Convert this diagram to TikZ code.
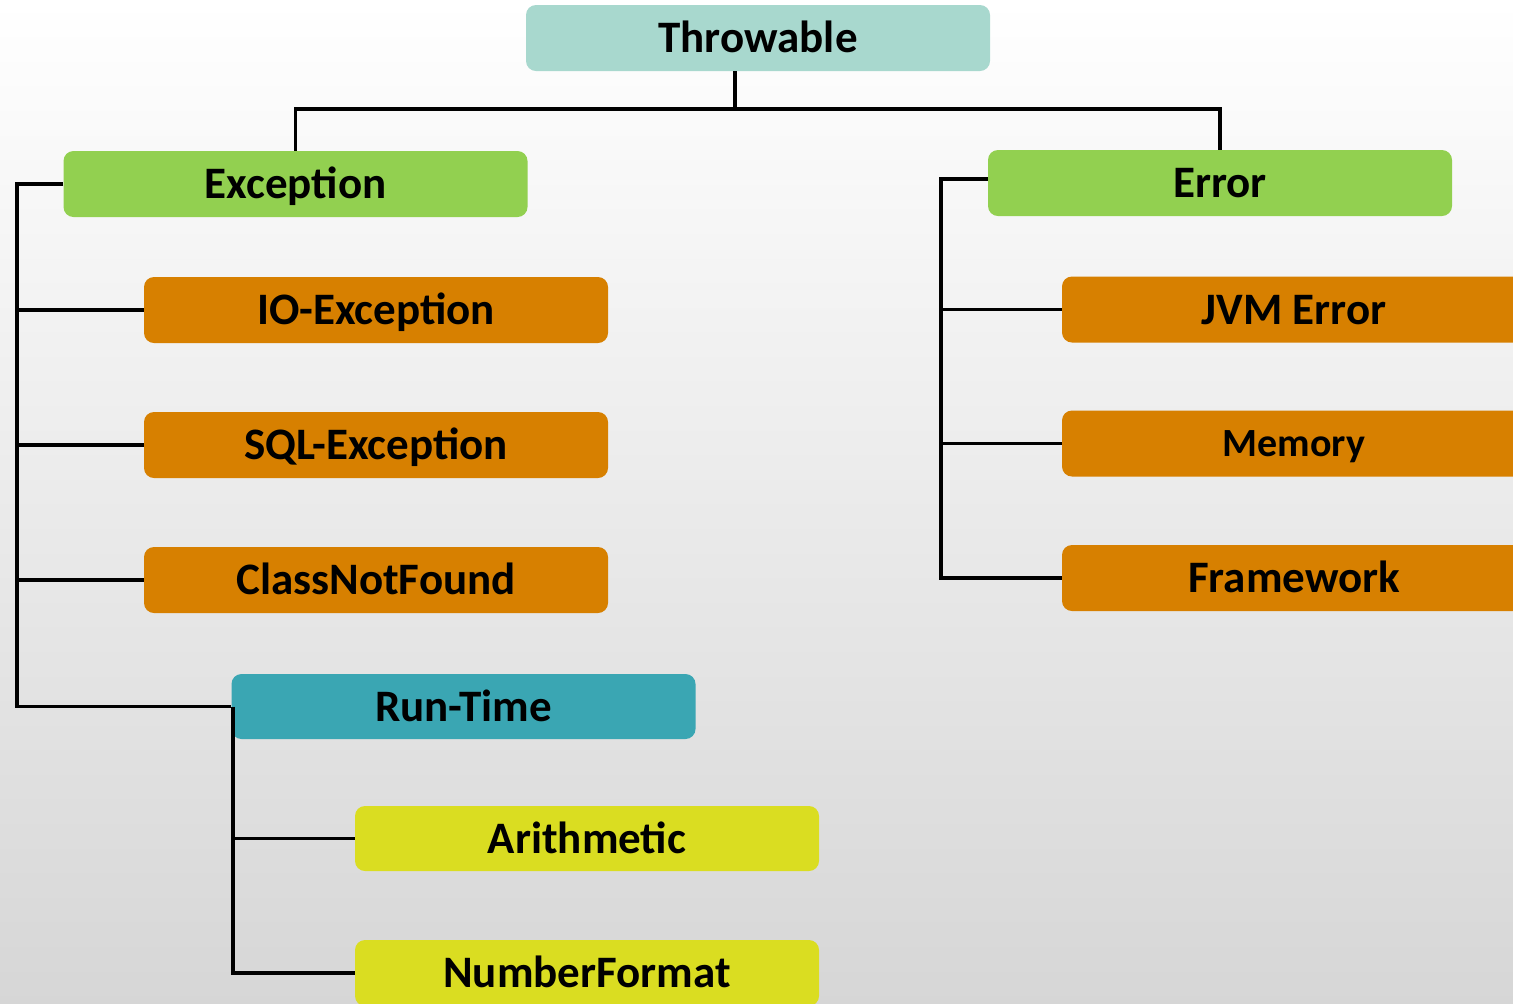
\documentclass[tikz,border=0pt]{standalone}
\usepackage{fontspec}
\setmainfont{Carlito}
\definecolor{cthrow}{RGB}{168,216,206}
\definecolor{cgreen}{RGB}{146,208,80}
\definecolor{corange}{RGB}{215,128,0}
\definecolor{cteal}{RGB}{58,166,179}
\definecolor{cyellow}{RGB}{218,221,33}
\begin{document}
\begin{tikzpicture}[x=0.5pt,y=-0.5pt,
  box/.style={rounded corners=5pt,inner sep=0pt,minimum width=232pt,minimum height=33pt,
    text height=14.5pt,text depth=0pt,
    text=black,font=\fontsize{22.5}{27}\selectfont\bfseries},
  link/.style={line width=1.8pt,black}]
\useasboundingbox (0,0) rectangle (1513,1003);
\clip (0,0) rectangle (1513,1003);
\shade[top color=white,middle color=gray!9,bottom color=gray!32] (0,0) rectangle (1513,1003);

% class hierarchy boxes
\node[box,fill=cthrow]  (thr) at (758,38)    {Throwable};
\node[box,fill=cgreen]  (exc) at (295.5,184) {Exception};
\node[box,fill=cgreen]  (err) at (1220,183)  {Error};
\node[box,fill=corange] (io)  at (376,310)   {IO-Exception};
\node[box,fill=corange] (sql) at (376,445)   {SQL-Exception};
\node[box,fill=corange] (cnf) at (376,580)   {ClassNotFound};
\node[box,fill=cteal,minimum height=32.5pt] (rt) at (463.5,706.5) {Run-Time};
\node[box,fill=cyellow,minimum height=32.5pt] (ari) at (587,838.5) {Arithmetic};
\node[box,fill=cyellow] (nf)  at (587,973)   {NumberFormat};
\node[box,fill=corange] (jvm) at (1294,309.5) {JVM Error};
\node[box,fill=corange,text height=13pt,font=\fontsize{20}{24}\selectfont\bfseries] (mem) at (1294,443.5) {Memory};
\node[box,fill=corange] (fw)  at (1294,578)  {Framework};

% bus points
\coordinate (hub)  at (735,109);
\coordinate (ebus) at (17,184);
\coordinate (rbus) at (233,706.5);
\coordinate (rbus2) at (941,179);

% Throwable to its two subclasses
\draw[link] (thr.south -| hub) -- (hub);
\draw[link] (exc.north) |- (hub) -| (err.north);

% Exception branch
\draw[link] (exc.west |- ebus) -- (ebus) |- (rt.west);
\draw[link] (io.west)  -- (io.west -| ebus);
\draw[link] (sql.west) -- (sql.west -| ebus);
\draw[link] (cnf.west) -- (cnf.west -| ebus);

% Run-Time branch
\draw[link] (rbus) |- (nf.west);
\draw[link] (ari.west) -- (ari.west -| rbus);

% Error branch
\draw[link] (err.west |- rbus2) -- (rbus2) |- (fw.west);
\draw[link] (jvm.west) -- (jvm.west -| rbus2);
\draw[link] (mem.west) -- (mem.west -| rbus2);
\end{tikzpicture}
\end{document}
